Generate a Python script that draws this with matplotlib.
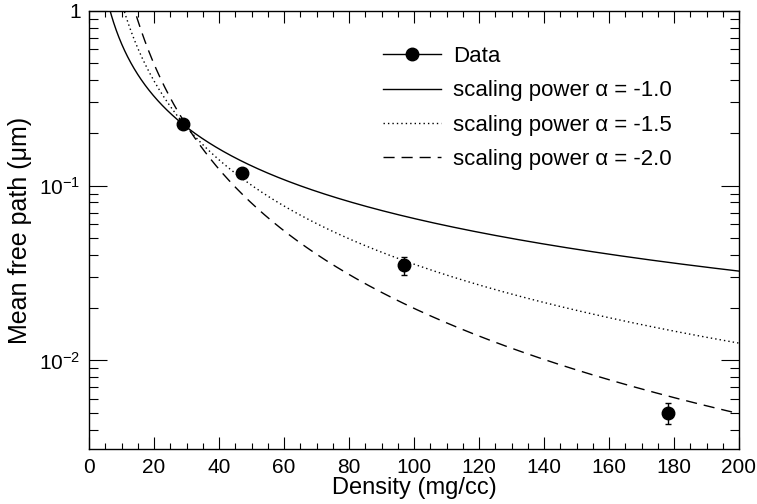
import numpy as np
import matplotlib
matplotlib.use("Agg")
import matplotlib.pyplot as plt
from matplotlib.lines import Line2D
from matplotlib.ticker import FixedLocator, FixedFormatter, MultipleLocator, NullFormatter

plt.rcParams['font.family'] = ['Liberation Sans', 'DejaVu Sans']
plt.rcParams['mathtext.fontset'] = 'custom'
plt.rcParams['mathtext.rm'] = 'Liberation Sans'
plt.rcParams['mathtext.it'] = 'Liberation Sans:italic'

# ---- data ----
density = [29, 47, 97, 178]
mfp = [0.2254, 0.1176, 0.0349, 0.0050]
mfp_err = [0.008, 0.004, 0.0042, 0.0007]

alphas = [-1.0, -1.5, -2.0]
norms = [6.48, 35.5, 198.4]          # curve amplitude c in  c * x^alpha
curve_styles = ['-', ':', '--']
curve_labels = ['scaling power \u03b1 = -1.0',
                'scaling power \u03b1 = -1.5',
                'scaling power \u03b1 = -2.0']

ytick_vals = [0.01, 0.1, 1.0]
ytick_labels = [r'$10^{-2}$', r'$10^{-1}$', '1']

fig = plt.figure(figsize=(7.57, 5.04), dpi=100)
ax = fig.add_axes([89/757, 1 - 449.3/504, (739-89)/757, (449.3-10.7)/504])

xs = np.linspace(0.5, 200, 2000)
handles = []
for a, c, ls, lab in zip(alphas, norms, curve_styles, curve_labels):
    kw = dict(color='black', lw=1.0, linestyle=ls)
    if ls == '--':
        kw['dashes'] = (8, 5)
    elif ls == ':':
        kw['dashes'] = (1, 2.2)
    ln, = ax.plot(xs, c * xs ** a, label=lab, **kw)
    handles.append(ln)

ax.errorbar(density, mfp, yerr=mfp_err, fmt='o', color='black', ms=9,
            elinewidth=1.0, capsize=2.5, capthick=1.0, zorder=5)
data_handle = Line2D([], [], color='black', lw=1.0, marker='o', ms=9)

ax.set_yscale('log')
ax.set_xlim(0, 200)
ax.set_ylim(0.0031, 1.0)

ax.xaxis.set_major_locator(MultipleLocator(20))
ax.xaxis.set_minor_locator(MultipleLocator(5))
ax.yaxis.set_major_locator(FixedLocator(ytick_vals))
ax.yaxis.set_major_formatter(FixedFormatter(ytick_labels))
ax.yaxis.set_minor_formatter(NullFormatter())

ax.tick_params(which='both', direction='in', top=True, right=True,
               labelsize=15, width=0.8)
ax.tick_params(axis='x', which='major', length=8.5, pad=6)
ax.tick_params(axis='x', which='minor', length=4)
ax.tick_params(axis='y', which='major', length=13, pad=6)
ax.tick_params(axis='y', which='minor', length=6.5)
for s in ax.spines.values():
    s.set_linewidth(1.0)

ax.set_xlabel('Density (mg/cc)', fontsize=17, labelpad=0)
ax.set_ylabel('Mean free path (\u03bcm)', fontsize=18, labelpad=5)

fig.legend([data_handle] + handles, ['Data'] + curve_labels,
           loc='upper left', bbox_to_anchor=(383/757, 1 - 46/504),
           frameon=False, fontsize=16, handlelength=2.6, handletextpad=0.55,
           labelspacing=0.6, borderaxespad=0, borderpad=0)

fig.savefig('out.png', dpi=100)
